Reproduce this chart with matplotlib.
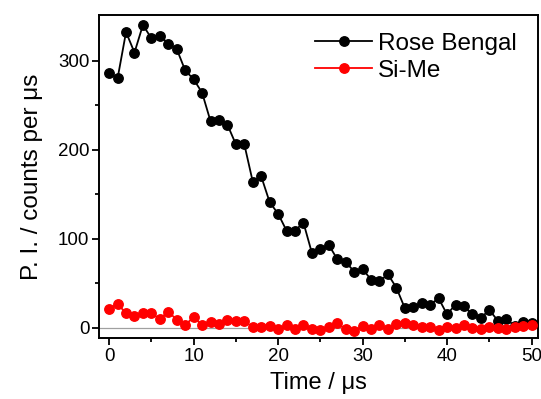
import matplotlib.pyplot as plt
import numpy as np

plt.rcParams['font.family'] = ['Liberation Sans', 'DejaVu Sans']

# tempo em microsegundos (passo de 1 us)
tempo = np.arange(0, 51)

rose_bengal = [286, 280, 332, 309, 340, 325, 328, 319, 313, 289,
               279, 264, 232, 233, 228, 206, 206, 164, 170, 141,
               128, 109, 109, 118, 84, 88, 93, 77, 74, 63,
               66, 54, 52, 60, 45, 22, 23, 28, 26, 33,
               15, 26, 24, 15, 11, 20, 8, 10, 2, 6, 5]

si_me = [21, 27, 16, 13, 16, 16, 10, 18, 9, 3,
         12, 3, 6, 4, 9, 8, 7, 1, 1, 2,
         -2, 3, -2, 3, -2, -3, 1, 5, -2, -4,
         2, -2, 3, -2, 4, 5, 3, 1, 1, -3,
         1, 0, 3, 0, -2, 1, 0, -1, 1, 2, 3]

fig = plt.figure(figsize=(5.41, 3.99), dpi=100)
ax = fig.add_axes([0.183, 0.153, 0.812, 0.809])

ax.axhline(0, color="#a0a0a0", lw=0.9, zorder=1)
ax.plot(tempo, rose_bengal, '-o', color="black", lw=1.3, ms=6.8, label="Rose Bengal", zorder=2)
ax.plot(tempo, si_me, '-o', color="red", lw=1.3, ms=6.8, label="Si-Me", zorder=3)

ax.set_xlim(-1.2, 50.8)
ax.set_ylim(-11.5, 351)
ax.set_xticks([0, 10, 20, 30, 40, 50])
ax.set_xticks(np.arange(5, 50, 10), minor=True)
ax.set_yticks([0, 100, 200, 300])
ax.set_yticks([50, 150, 250], minor=True)
ax.tick_params(which="major", direction="out", length=5, width=1.3, labelsize=13.5, pad=2)
ax.tick_params(which="minor", direction="out", length=3, width=1.3)
for s in ax.spines.values():
    s.set_linewidth(1.4)

ax.set_xlabel("Time / \u03bcs", fontsize=17, labelpad=5)
ax.set_ylabel("P. I. / counts per \u03bcs", fontsize=17.5, labelpad=11)

ax.legend(loc="upper right", frameon=False, fontsize=17.5, handlelength=2.35,
          markerscale=1.0, borderaxespad=0.2, labelspacing=0.2, handletextpad=0.25,
          bbox_to_anchor=(0.985, 0.99))

fig.savefig("out.png", dpi=100)
